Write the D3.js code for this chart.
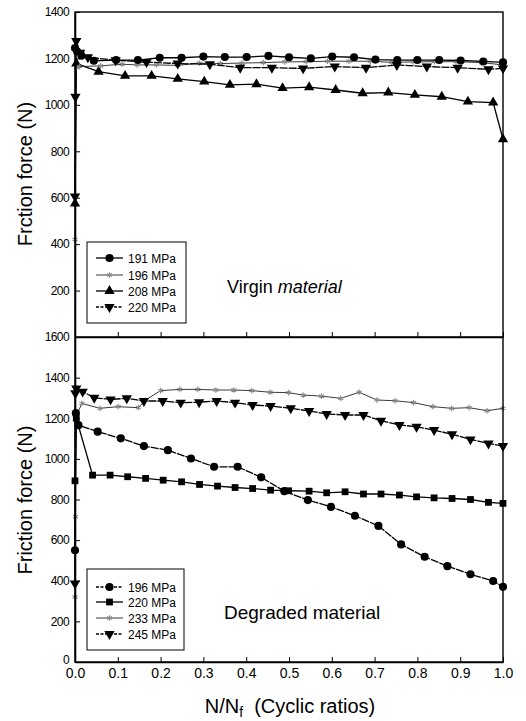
<!DOCTYPE html>
<html>
<head>
<meta charset="utf-8">
<script src="https://cdn.jsdelivr.net/npm/d3@7"></script>
<style>
  body { margin: 0; background: #fff; }
  text { font-family: "Liberation Sans", Arial, sans-serif; fill: #000; }
</style>
</head>
<body>
<div id="chart"></div>
<script>
// ---- data: [N/Nf, friction force N] ----
var virgin191 = [[0,1245],[0.005,1230],[0.015,1212],[0.044,1190],[0.096,1193],[0.147,1193],[0.198,1203],[0.249,1203],
  [0.3,1208],[0.35,1206],[0.401,1206],[0.452,1211],[0.5,1205],[0.551,1200],[0.601,1208],[0.652,1205],[0.702,1195],
  [0.753,1193],[0.8,1193],[0.851,1193],[0.901,1191],[0.954,1187],[1.0,1183]];
var virgin196 = [[0,420],[0.003,1160],[0.01,1165],[0.06,1168],[0.11,1175],[0.145,1172],[0.19,1172],[0.24,1170],
  [0.29,1180],[0.34,1178],[0.39,1180],[0.44,1182],[0.49,1185],[0.54,1186],[0.59,1188],[0.64,1188],[0.69,1188],
  [0.74,1183],[0.79,1185],[0.84,1186],[0.89,1186],[0.95,1182],[1.0,1172]];
var virgin208 = [[0,575],[0.003,1178],[0.055,1143],[0.117,1125],[0.179,1125],[0.24,1112],[0.302,1100],[0.362,1086],
  [0.424,1089],[0.485,1072],[0.547,1076],[0.609,1064],[0.672,1050],[0.732,1053],[0.794,1043],[0.857,1035],
  [0.918,1014],[0.977,1010],[1.0,852]];
var virgin220 = [[0,605],[0.001,1035],[0.003,1275],[0.012,1225],[0.03,1205],[0.095,1192],[0.167,1184],[0.24,1178],
  [0.315,1175],[0.386,1160],[0.46,1160],[0.533,1157],[0.607,1165],[0.68,1160],[0.752,1172],[0.822,1165],
  [0.894,1160],[0.966,1153],[1.0,1157]];

var degraded196 = [[0,550],[0.002,1225],[0.008,1166],[0.053,1134],[0.107,1101],[0.161,1063],[0.217,1043],[0.271,1002],
  [0.325,961],[0.38,961],[0.435,909],[0.489,841],[0.544,797],[0.598,764],[0.654,720],[0.709,670],[0.762,579],
  [0.817,518],[0.87,472],[0.924,432],[0.977,399],[1.0,370]];
var degraded220 = [[0,892],[0.003,1200],[0.041,920],[0.082,920],[0.123,912],[0.165,904],[0.206,895],[0.249,887],
  [0.291,874],[0.333,866],[0.374,859],[0.415,854],[0.457,846],[0.499,843],[0.547,841],[0.588,833],[0.631,838],
  [0.674,827],[0.715,827],[0.758,822],[0.798,813],[0.839,808],[0.881,805],[0.924,800],[0.966,786],[1.0,781]];
var degraded233 = [[0,320],[0.001,715],[0.003,1210],[0.016,1273],[0.058,1249],[0.101,1257],[0.148,1252],[0.165,1290],
  [0.2,1336],[0.245,1342],[0.287,1342],[0.329,1339],[0.371,1339],[0.413,1336],[0.456,1328],[0.499,1326],
  [0.533,1314],[0.576,1309],[0.621,1298],[0.664,1328],[0.705,1290],[0.748,1286],[0.791,1277],[0.836,1257],
  [0.88,1249],[0.921,1252],[0.963,1237],[1.0,1249]];
var degraded245 = [[0,386],[0.001,1323],[0.003,1347],[0.018,1331],[0.045,1301],[0.083,1293],[0.121,1298],[0.161,1285],
  [0.205,1285],[0.247,1277],[0.29,1279],[0.331,1285],[0.374,1277],[0.415,1265],[0.457,1260],[0.504,1249],
  [0.547,1236],[0.588,1221],[0.631,1216],[0.674,1216],[0.715,1188],[0.758,1167],[0.798,1158],[0.839,1142],
  [0.881,1121],[0.924,1096],[0.966,1076],[1.0,1063]];

var virginLabels = ["191 MPa", "196 MPa", "208 MPa", "220 MPa"];
var degradedLabels = ["196 MPa", "220 MPa", "233 MPa", "245 MPa"];
var xTicks = [0, 0.1, 0.2, 0.3, 0.4, 0.5, 0.6, 0.7, 0.8, 0.9, 1.0];
var virginTicks = [200, 400, 600, 800, 1000, 1200, 1400];
var degradedTicks = [0, 200, 400, 600, 800, 1000, 1200, 1400, 1600];

// ---- layout ----
var width = 526, height = 721;
var left = 75, right = 503;
var topTop = 12, mid = 337, bottomBottom = 662;

var svg = d3.select("#chart")
  .append("svg")
    .attr("width", width)
    .attr("height", height);

var x = d3.scaleLinear().domain([0, 1]).range([left, right]);
var yTop = d3.scaleLinear().domain([0, 1400]).range([mid, topTop]);
var yBot = d3.scaleLinear().domain([0, 1600]).range([bottomBottom, mid]);

// marker styles
var styles = {
  circle:  {sym: d3.symbolCircle, size: 52, rot: 0, fill: "#000", stroke: "none", width: 1.3, dash: null, lineColor: "#000"},
  square:  {sym: d3.symbolSquare, size: 46, rot: 0, fill: "#000", stroke: "none", width: 1.3, dash: null, lineColor: "#000"},
  tri:     {sym: d3.symbolTriangle, size: 46, rot: 0, fill: "#000", stroke: "none", width: 1.3, dash: null, lineColor: "#000"},
  down:    {sym: d3.symbolTriangle, size: 46, rot: 180, fill: "#000", stroke: "none", width: 1.3, dash: "8,1", lineColor: "#000"},
  star:    {sym: d3.symbolAsterisk, size: 22, rot: 0, fill: "none", stroke: "#888", width: 0.9, dash: null, lineColor: "#222"},
  circDash:{sym: d3.symbolCircle, size: 52, rot: 0, fill: "#000", stroke: "none", width: 1.3, dash: "8,1", lineColor: "#000"}
};

function drawSeries(data, y, st) {
  var line = d3.line()
    .x(function(d) { return x(d[0]); })
    .y(function(d) { return y(d[1]); });
  svg.append("path")
    .datum(data)
    .attr("d", line)
    .attr("fill", "none")
    .attr("stroke", st.lineColor)
    .attr("stroke-width", st.width)
    .attr("stroke-dasharray", st.dash);
  svg.append("g")
    .selectAll("path")
    .data(data)
    .enter()
    .append("path")
      .attr("d", d3.symbol().type(st.sym).size(st.size))
      .attr("transform", function(d) { return "translate(" + x(d[0]) + "," + y(d[1]) + ") rotate(" + st.rot + ")"; })
      .attr("fill", st.fill)
      .attr("stroke", st.stroke)
      .attr("stroke-width", 1.1);
}

function drawLegend(x0, y0, w, h, labels, stList, rowY) {
  svg.append("rect")
    .attr("x", x0).attr("y", y0).attr("width", w).attr("height", h)
    .attr("fill", "#fff").attr("stroke", "#000").attr("stroke-width", 1);
  labels.forEach(function(lab, i) {
    var st = stList[i], cy = rowY[i];
    svg.append("line")
      .attr("x1", x0 + 9).attr("x2", x0 + 36).attr("y1", cy).attr("y2", cy)
      .attr("stroke", st.lineColor).attr("stroke-width", st.width)
      .attr("stroke-dasharray", st.dash ? "3,1.5" : null);
    svg.append("path")
      .attr("d", d3.symbol().type(st.sym).size(st.size))
      .attr("transform", "translate(" + (x0 + 22.5) + "," + cy + ") rotate(" + st.rot + ")")
      .attr("fill", st.fill).attr("stroke", st.stroke).attr("stroke-width", 1.1);
    svg.append("text")
      .attr("x", x0 + 41).attr("y", cy + 4.5)
      .style("font-size", "12px")
      .text(lab);
  });
}

// ---- top panel: virgin material ----
drawSeries(virgin208, yTop, styles.tri);
drawSeries(virgin196, yTop, styles.star);
drawSeries(virgin220, yTop, styles.down);
drawSeries(virgin191, yTop, styles.circle);

// ---- bottom panel: degraded material ----
drawSeries(degraded233, yBot, styles.star);
drawSeries(degraded245, yBot, styles.down);
drawSeries(degraded220, yBot, styles.square);
drawSeries(degraded196, yBot, styles.circDash);

// frames
svg.append("rect")
  .attr("x", left).attr("y", topTop).attr("width", right - left).attr("height", bottomBottom - topTop)
  .attr("fill", "none").attr("stroke", "#000").attr("stroke-width", 1.4);
svg.append("line")
  .attr("x1", left).attr("x2", right).attr("y1", mid).attr("y2", mid)
  .attr("stroke", "#000").attr("stroke-width", 1.4);

// axes
var axTop = svg.append("g")
  .attr("transform", "translate(" + left + ",0)")
  .call(d3.axisLeft(yTop).tickValues(virginTicks).tickSize(-5).tickSizeOuter(0).tickPadding(6).tickFormat(d3.format("d")));
var axBot = svg.append("g")
  .attr("transform", "translate(" + left + ",0)")
  .call(d3.axisLeft(yBot).tickValues(degradedTicks).tickSize(-5).tickSizeOuter(0).tickPadding(6).tickFormat(d3.format("d")));
var axMid = svg.append("g")
  .attr("transform", "translate(0," + mid + ")")
  .call(d3.axisBottom(x).tickValues(xTicks).tickSize(-5).tickSizeOuter(0).tickFormat(""));
var axX = svg.append("g")
  .attr("transform", "translate(0," + bottomBottom + ")")
  .call(d3.axisBottom(x).tickValues(xTicks).tickSize(-5).tickSizeOuter(0).tickPadding(6).tickFormat(d3.format(".1f")));

[axTop, axBot, axMid, axX].forEach(function(a) {
  a.select(".domain").attr("stroke-width", 1.6);
  a.selectAll(".tick line").attr("stroke-width", 1);
});
[axTop, axBot].forEach(function(a) {
  a.selectAll("text").style("font-size", "12px").style("letter-spacing", "-0.6px")
    .attr("font-family", null);
});
axBot.selectAll(".tick text").filter(function(d) { return d === 0; }).attr("dy", "0.1em");
axX.selectAll("text").style("font-size", "14px").attr("font-family", null);

// axis titles
svg.append("text")
  .attr("transform", "translate(32,174) rotate(-90)")
  .attr("text-anchor", "middle")
  .style("font-size", "20px")
  .text("Frction force (N)");
svg.append("text")
  .attr("transform", "translate(32,500) rotate(-90)")
  .attr("text-anchor", "middle")
  .style("font-size", "20px")
  .text("Friction force (N)");
var xt = svg.append("text")
  .attr("x", 290).attr("y", 713)
  .attr("text-anchor", "middle")
  .style("font-size", "20px");
xt.append("tspan").text("N/N");
xt.append("tspan").attr("dy", 4).style("font-size", "14px").text("f");
xt.append("tspan").attr("dy", -4).text("\u00a0 (Cyclic ratios)");

// panel labels
var vt = svg.append("text")
  .attr("x", 227).attr("y", 293)
  .style("font-size", "18px");
vt.append("tspan").text("Virgin ");
vt.append("tspan").style("font-style", "italic").text("material");
svg.append("text")
  .attr("x", 224).attr("y", 619)
  .style("font-size", "19px")
  .text("Degraded material");

// legends
drawLegend(87, 242, 99, 81, virginLabels,
  [styles.circle, styles.star, styles.tri, styles.down], [258, 275, 291, 307]);
drawLegend(87, 569, 97, 81, degradedLabels,
  [styles.circDash, styles.square, styles.star, styles.down], [587, 602, 618, 634]);
</script>
</body>
</html>
